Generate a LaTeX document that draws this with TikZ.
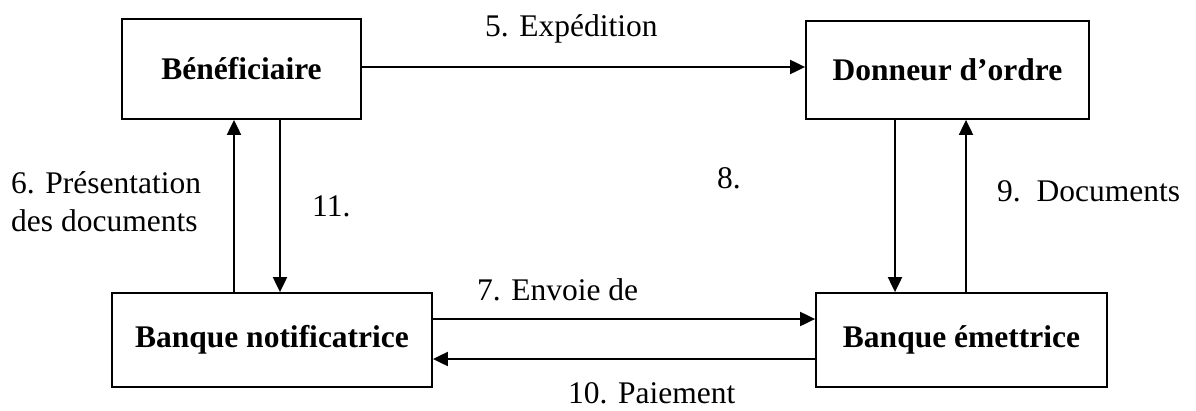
\documentclass[tikz,border=0pt]{standalone}
\usepackage{fontspec}
\setmainfont{Liberation Serif}
\usetikzlibrary{arrows.meta,positioning}

\begin{document}
\begin{tikzpicture}[x=1pt,y=-1pt,font=\fontsize{31.5}{38}\selectfont]
	%defines
	\tikzstyle{acteur} = [rectangle, minimum height=94pt, text centered, draw=black, line width=1.8pt, font=\fontsize{31.5}{38}\selectfont\bfseries]
	\tikzstyle{etape} = [inner sep=0pt, anchor=base west, align=left]
	\tikzstyle{arrow} = [line width=2pt,-{Triangle[length=15pt,width=14pt]}]
	\useasboundingbox (0,0) rectangle (1196,410);
	%chart
	\node (beneficiaire) [acteur, minimum width=239pt, minimum height=100pt] at (241.5,69) {Bénéficiaire};
	\node (donneur) [acteur, minimum width=283pt, minimum height=98pt] at (947.5,70) {Donneur d’ordre};
	\node (notificatrice) [acteur, minimum width=320pt] at (272,340) {Banque notificatrice};
	\node (emettrice) [acteur, minimum width=291pt] at (961.5,340) {Banque émettrice};
	%arrows
	\draw [arrow] ([yshift=2pt]beneficiaire.east) -- ([yshift=2pt]beneficiaire.east -| donneur.west);
	\draw [arrow] ([xshift=-7.5pt]beneficiaire.south |- notificatrice.north) -- ([xshift=-7.5pt]beneficiaire.south);
	\draw [arrow] ([xshift=38.5pt]beneficiaire.south) -- ([xshift=38.5pt]beneficiaire.south |- notificatrice.north);
	\draw [arrow] ([xshift=-52.5pt]donneur.south) -- ([xshift=-52.5pt]donneur.south |- emettrice.north);
	\draw [arrow] ([xshift=18.5pt]donneur.south |- emettrice.north) -- ([xshift=18.5pt]donneur.south);
	\draw [arrow] ([yshift=21pt]notificatrice.east) -- ([yshift=21pt]notificatrice.east -| emettrice.west);
	\draw [arrow] ([yshift=-19pt]emettrice.west) -- ([yshift=-19pt]emettrice.west -| notificatrice.east);
	%labels
	\node (expedition) [etape] at (485,36) {5. Expédition};
	\node (presentation) [etape] at (11,231) {6. Présentation\\des documents};
	\node (envoi) [etape] at (477,300) {7. Envoie de};
	\node (huit) [etape] at (717,188) {8.};
	\node (documents) [etape] at (997,201) {9.\ \ Documents};
	\node (paiement) [etape] at (568,403) {10. Paiement};
	\node (onze) [etape] at (312,216) {11.};
\end{tikzpicture}
\end{document}
